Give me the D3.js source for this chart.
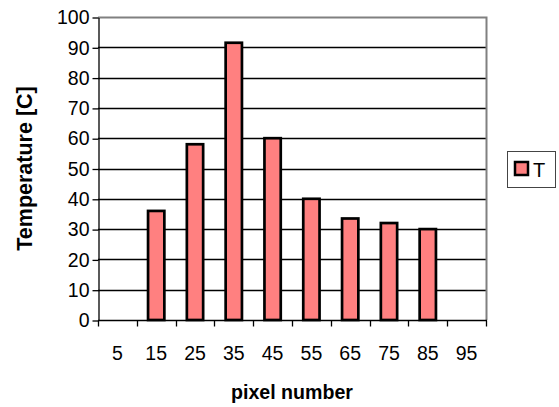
<!DOCTYPE html>
<html>
<head>
<meta charset="utf-8">
<script src="https://cdn.jsdelivr.net/npm/d3@7"></script>
<style>
  body { margin: 0; background: #fff; }
  svg { display: block; font-family: "Liberation Sans", Arial, sans-serif; }
</style>
</head>
<body>
<script>
const width = 559;
const height = 407;

// data
const pixels = ["5", "15", "25", "35", "45", "55", "65", "75", "85", "95"];
const temps = [null, 36, 58, 91.5, 60, 40, 33.5, 32, 30, null];
const yTicks = [0, 10, 20, 30, 40, 50, 60, 70, 80, 90, 100];
const seriesName = "T";

const plot = {left: 98, right: 486, top: 17, bottom: 320};

const svg = d3.select("body").append("svg")
  .attr("width", width)
  .attr("height", height);

const x = d3.scaleBand()
  .domain(pixels)
  .range([plot.left, plot.right])
  .paddingInner(0.58)
  .paddingOuter(0.29);

const band = d3.scaleBand().domain(pixels).range([plot.left, plot.right]);

const y = d3.scaleLinear()
  .domain([0, 100])
  .range([plot.bottom, plot.top]);

// gridlines
svg.append("g")
  .selectAll("line")
  .data(yTicks.filter(d => d > 0 && d < 100))
  .join("line")
  .attr("x1", plot.left).attr("x2", plot.right)
  .attr("y1", d => Math.round(y(d)) + 0.5).attr("y2", d => Math.round(y(d)) + 0.5)
  .attr("stroke", "#000").attr("stroke-width", 1.3);

// plot frame (top/right gray)
svg.append("path")
  .attr("d", `M${plot.left},${plot.top + 0.5}H${plot.right + 0.5}V${plot.bottom}`)
  .attr("fill", "none")
  .attr("stroke", "#808080")
  .attr("stroke-width", 2);

// bars
svg.append("g")
  .selectAll("rect")
  .data(pixels.map((p, i) => ({p, v: temps[i]})).filter(d => d.v != null))
  .join("rect")
  .attr("x", d => x(d.p))
  .attr("y", d => y(d.v))
  .attr("width", x.bandwidth())
  .attr("height", d => y(0) - y(d.v))
  .attr("fill", "#ff8080")
  .attr("stroke", "#000")
  .attr("stroke-width", 2.7);

// y axis
const yAxis = svg.append("g")
  .attr("transform", `translate(${plot.left + 0.5},0.5)`)
  .call(d3.axisLeft(y).tickValues(yTicks).tickSize(6).tickPadding(3).tickSizeOuter(0));
yAxis.select(".domain").attr("stroke", "#000").attr("stroke-width", 1.3);
yAxis.selectAll("line").attr("stroke-width", 1.3);
yAxis.selectAll("text")
  .attr("font-size", 19.5)
  .attr("fill", "#000")
  .attr("font-family", "Liberation Sans, Arial, sans-serif");

// x axis - ticks at category boundaries
const xAxis = svg.append("g")
  .attr("transform", `translate(0,${plot.bottom + 0.5})`);
xAxis.append("line")
  .attr("x1", plot.left).attr("x2", plot.right + 1)
  .attr("stroke", "#000").attr("stroke-width", 1.3);
xAxis.selectAll("line.tick")
  .data(pixels.concat(["end"]))
  .join("line")
  .attr("class", "tick")
  .attr("x1", (d, i) => Math.round(plot.left + i * band.bandwidth()) + 0.5)
  .attr("x2", (d, i) => Math.round(plot.left + i * band.bandwidth()) + 0.5)
  .attr("y1", 0).attr("y2", 6)
  .attr("stroke", "#000").attr("stroke-width", 1.3);
xAxis.selectAll("text")
  .data(pixels)
  .join("text")
  .attr("x", d => band(d) + band.bandwidth() / 2)
  .attr("y", 39.5)
  .attr("text-anchor", "middle")
  .attr("font-size", 19.5)
  .text(d => d);

// axis titles
svg.append("text")
  .attr("x", (plot.left + plot.right) / 2)
  .attr("y", 399)
  .attr("text-anchor", "middle")
  .attr("font-weight", "bold")
  .attr("font-size", 19.6)
  .text("pixel number");

svg.append("text")
  .attr("transform", `translate(32,${(plot.top + plot.bottom) / 2}) rotate(-90)`)
  .attr("text-anchor", "middle")
  .attr("font-weight", "bold")
  .attr("font-size", 21.5)
  .text("Temperature [C]");

// legend
const legend = svg.append("g").attr("transform", "translate(507,151)");
legend.append("rect")
  .attr("x", 0.5).attr("y", 0.5)
  .attr("width", 48).attr("height", 36)
  .attr("fill", "#fff")
  .attr("stroke", "#444");
legend.append("rect")
  .attr("x", 8).attr("y", 11)
  .attr("width", 13).attr("height", 13)
  .attr("fill", "#ff8080")
  .attr("stroke", "#000")
  .attr("stroke-width", 2.5);
legend.append("text")
  .attr("x", 26).attr("y", 25.5)
  .attr("font-size", 20)
  .text(seriesName);
</script>
</body>
</html>
